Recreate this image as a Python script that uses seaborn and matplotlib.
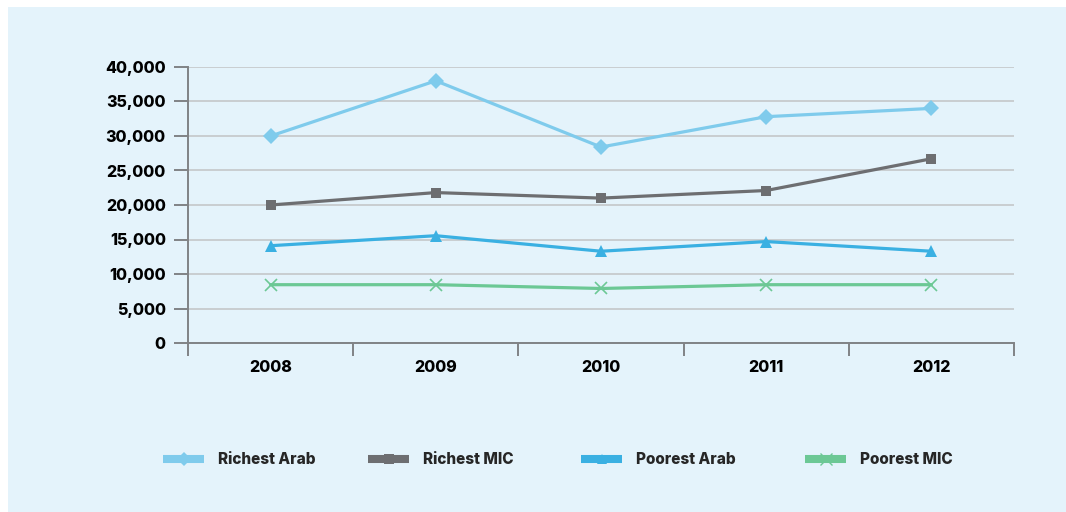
import matplotlib
matplotlib.use("Agg")
import matplotlib.pyplot as plt
from matplotlib.lines import Line2D
from matplotlib.patches import Rectangle
import numpy as np
import pandas as pd
import seaborn as sns

# Data
years = ["2008", "2009", "2010", "2011", "2012"]
richest_arab = [30000, 38000, 28400, 32800, 34000]
richest_mic = [20000, 21800, 21000, 22100, 26700]
poorest_arab = [14100, 15550, 13300, 14700, 13300]
poorest_mic = [8450, 8450, 7900, 8450, 8450]
y_ticks = [0, 5000, 10000, 15000, 20000, 25000, 30000, 35000, 40000]

series_names = ["Richest Arab", "Richest MIC", "Poorest Arab", "Poorest MIC"]
series_values = [richest_arab, richest_mic, poorest_arab, poorest_mic]
colors = ["#7FCBEC", "#6D6E71", "#3AB0E2", "#6CC895"]
markers = ["D", "s", "^", "x"]
marker_sizes = [8, 7.5, 8.5, 9]

rows = []
for name, vals in zip(series_names, series_values):
    for i, v in enumerate(vals):
        rows.append({"pos": i, "year": years[i], "series": name, "value": v})
df = pd.DataFrame(rows)

sns.set_theme(style="white")
plt.rcParams["font.family"] = ["Inter", "DejaVu Sans"]
FW = 800

W, H, DPI = 1066, 512, 100
fig = plt.figure(figsize=(W / DPI, H / DPI), dpi=DPI, facecolor="white")
bg = "#E4F3FB"
fig.patches.append(Rectangle((8 / W, 0), 1 - 8 / W, 1 - 7 / H,
                             transform=fig.transFigure, facecolor=bg,
                             edgecolor="none", zorder=-10))

ax = fig.add_axes([188 / W, 1 - 343 / H, (1014 - 188) / W, (343 - 67) / H])
ax.set_facecolor(bg)
ax.patch.set_alpha(0)

for name, col, mk, ms in zip(series_names, colors, markers, marker_sizes):
    sub = df[df["series"] == name]
    sns.lineplot(data=sub, x="pos", y="value", ax=ax, color=col, lw=2.3,
                 marker=mk, markersize=ms, markeredgewidth=1.2 if mk == "x" else 0,
                 markeredgecolor=col, legend=False, zorder=3)

ax.set_xlim(-0.5, len(years) - 0.5)
ax.set_ylim(0, 40000)
ax.set_yticks(y_ticks)
ax.set_yticklabels([f"{t:,}" for t in y_ticks], fontsize=11.5, fontweight=FW, color="#000000")
ax.yaxis.grid(True, color="#C9CDD0", lw=1.4, zorder=0)
ax.xaxis.grid(False)

# category boundaries as major ticks, labels at category centers
ax.set_xticks(np.arange(-0.5, len(years), 1.0))
ax.set_xticklabels([])
ax.set_xticks(np.arange(len(years)), minor=True)
ax.set_xticklabels(years, minor=True, fontsize=11.5, fontweight=FW, color="#000000")
ax.tick_params(axis="x", which="major", direction="out", length=9, width=1.4,
               color="#808285", bottom=True)
ax.tick_params(axis="x", which="minor", length=0, pad=12, bottom=True)
ax.tick_params(axis="y", direction="out", length=10, width=1.4, color="#808285",
               left=True, pad=6)
ax.set_xlabel("")
ax.set_ylabel("")

for s in ["top", "right"]:
    ax.spines[s].set_visible(False)
for s in ["left", "bottom"]:
    ax.spines[s].set_color("#808285")
    ax.spines[s].set_linewidth(1.4)

# legend entries placed individually along the bottom
legend_x = [163, 368, 581, 805]
for name, c, m, lx in zip(series_names, colors, markers, legend_x):
    h = Line2D([0], [0], color=c, lw=5.8, solid_capstyle="butt", marker=m,
               markersize=7 if m != "x" else 8, markeredgewidth=1 if m == "x" else 0,
               markeredgecolor=c, markerfacecolor=c)
    fig.legend([h], [name], loc="center left", bbox_to_anchor=(lx / W, 1 - 460 / H),
               frameon=False, handlelength=2.7, handletextpad=0.9, borderpad=0,
               borderaxespad=0, prop={"weight": FW, "size": 11})

fig.savefig("out.png", dpi=DPI, facecolor="white")
